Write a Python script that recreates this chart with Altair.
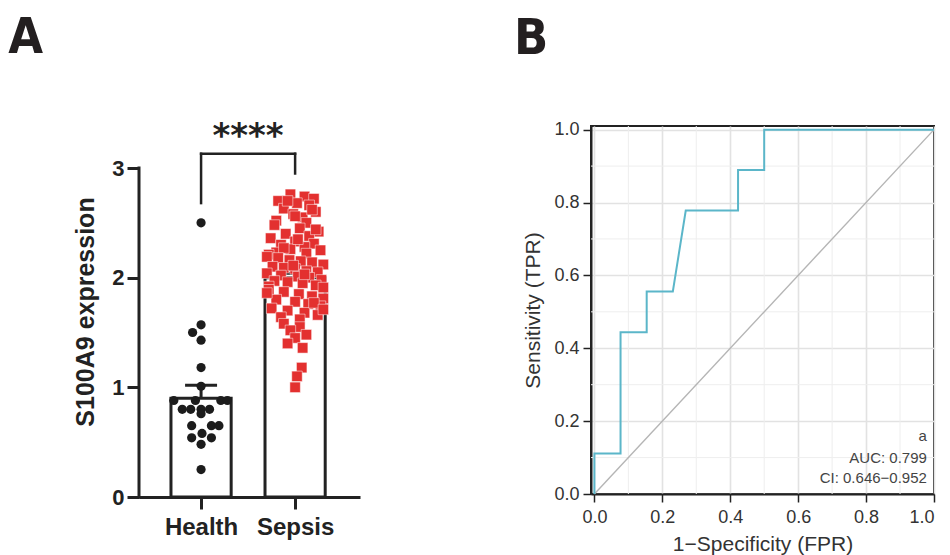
import altair as alt
import pandas as pd

# ---------------- Panel A data ----------------
groups = ["Health", "Sepsis"]
group_pos = [0, 1]
bar_means = [0.90, 2.00]
bar_sems = [0.12, 0.04]

health_vals = [2.50, 1.57, 1.50, 1.43, 1.18, 1.01,
               0.88, 0.88, 0.88, 0.88,
               0.80, 0.80, 0.80, 0.80, 0.76,
               0.65, 0.65, 0.65, 0.58, 0.54, 0.54, 0.48, 0.25]
health_dx = [0.0, 0.0, -0.09, 0.0, 0.0, 0.0,
             -0.29, -0.06, 0.21, 0.28,
             -0.20, -0.11, 0.0, 0.09, 0.0,
             -0.10, 0.11, 0.19, 0.01, -0.10, 0.11, 0.0, 0.0]

sepsis_vals = [2.76, 2.74, 2.72, 2.70, 2.68, 2.66, 2.63, 2.60, 2.58, 2.55, 2.52, 2.50, 2.70, 2.62, 2.56,
               2.48, 2.45, 2.42, 2.40, 2.38, 2.36, 2.33, 2.31, 2.30, 2.28, 2.26, 2.25, 2.23, 2.22, 2.21, 2.44, 2.35, 2.27,
               2.19, 2.18, 2.16, 2.15, 2.14, 2.12, 2.10, 2.09, 2.08, 2.06, 2.05, 2.04, 2.02, 2.01, 2.00, 1.98, 1.97, 1.96,
               1.95, 1.93, 1.92, 1.91, 2.11, 2.03,
               1.89, 1.87, 1.85, 1.83, 1.81, 1.80, 1.78, 1.76, 1.74, 1.72, 1.70, 1.68, 1.66, 1.64, 1.62, 1.86, 1.77, 1.71,
               1.58, 1.55, 1.52, 1.48, 1.45, 1.40, 1.36,
               1.18, 1.10, 1.00]
sepsis_dx = [-0.05, 0.10, 0.20, -0.18, 0.02, 0.15, -0.12, 0.22, -0.02, 0.08, -0.20, 0.12, -0.08, 0.18, 0.00,
             -0.22, 0.05, 0.25, -0.10, 0.15, -0.26, 0.00, 0.20, -0.15, 0.10, -0.05, 0.27, -0.20, 0.12, -0.28, 0.22, 0.03, -0.12,
             -0.30, -0.18, -0.06, 0.06, 0.18, 0.30, -0.24, -0.12, 0.00, 0.12, 0.24, -0.30, -0.15, 0.03, 0.15, 0.28, -0.22, -0.08,
             0.08, 0.22, -0.28, 0.30, -0.02, 0.10,
             -0.28, -0.12, 0.04, 0.18, 0.30, -0.20, 0.00, 0.14, 0.27, -0.25, -0.08, 0.10, 0.24, -0.15, 0.05, -0.30, 0.20, 0.30,
             -0.12, 0.05, -0.05, 0.12, 0.00, -0.08, 0.08,
             0.07, 0.02, 0.00]

bracket_y = 3.13
bracket_left_low = 2.68
bracket_right_low = 2.95
stars_y = 3.28
stars_label = "****"
y_ticks_A = [0, 1, 2, 3]
panel_label_A = "A"
panel_label_A_pos = (-2.05, 4.05)   # data units of panel A

# ---------------- Panel B data ----------------
roc_fpr = [0.0, 0.0, 0.077, 0.077, 0.154, 0.154, 0.231, 0.269, 0.423, 0.423, 0.5, 0.5, 1.0]
roc_tpr = [0.0, 0.111, 0.111, 0.444, 0.444, 0.556, 0.556, 0.778, 0.778, 0.889, 0.889, 1.0, 1.0]
diag = [0.0, 1.0]
minor_grid = [0.1, 0.3, 0.5, 0.7, 0.9]
major_ticks = [0.0, 0.2, 0.4, 0.6, 0.8, 1.0]
annot_lines = ["a", "AUC: 0.799", "CI: 0.646\u22120.952"]
annot_y = [0.159, 0.099, 0.044]
annot_x = 0.979
panel_label_B = "B"
panel_label_B_pos = (-0.237, 1.208)  # data units of panel B

FONT = "Liberation Sans"
PANEL_FONT = "Liberation Sans Narrow, DejaVu Sans Condensed, sans-serif"
PANEL_SIZE = 50

# ---------------- Panel A ----------------
XA_MIN, XA_MAX = -0.66, 1.69
YA_MAX = 3.383

bar_df = pd.DataFrame({"group": groups, "pos": group_pos, "mean": bar_means, "sem": bar_sems})
bar_df["left"] = bar_df["pos"] - 0.32
bar_df["right"] = bar_df["pos"] + 0.32
bar_df["top"] = bar_df["mean"] + bar_df["sem"]
bar_df["capl"] = bar_df["pos"] - 0.17
bar_df["capr"] = bar_df["pos"] + 0.17
bar_df["zero"] = 0.0

h_df = pd.DataFrame({"x": [0 + d for d in health_dx], "y": health_vals})
s_df = pd.DataFrame({"x": [1 + d for d in sepsis_dx], "y": sepsis_vals})

xA = alt.Scale(domain=[XA_MIN, XA_MAX], nice=False, zero=False)
yA = alt.Scale(domain=[0, YA_MAX], nice=False)

x_axisA = alt.Axis(values=group_pos, labelExpr="datum.value == 0 ? 'Health' : 'Sepsis'",
                   title=None, grid=False, domainColor="#222", domainWidth=3, tickColor="#222",
                   tickWidth=3, tickSize=12, labelFont=FONT, labelFontWeight="bold",
                   labelFontSize=24, labelColor="#222", labelPadding=6)
y_axisA = alt.Axis(values=y_ticks_A, format="d", title="S100A9 expression", grid=False, domain=False,
                   tickColor="#222", tickWidth=3, tickSize=12,
                   labelFont=FONT, labelFontWeight="bold", labelFontSize=22, labelColor="#222",
                   labelPadding=3, titleFont=FONT, titleFontWeight="bold", titleFontSize=25,
                   titleColor="#222", titlePadding=13)

baseA = alt.Chart(bar_df)
bars = baseA.mark_bar(fill="white", stroke="#222", strokeWidth=3).encode(
    x=alt.X("left:Q", scale=xA, axis=x_axisA), x2="right:Q",
    y=alt.Y("mean:Q", scale=yA, axis=y_axisA), y2="zero:Q")
err_v = baseA.mark_rule(color="#222", strokeWidth=3).encode(
    x=alt.X("pos:Q", scale=xA), y=alt.Y("mean:Q", scale=yA), y2="top:Q")
err_cap = baseA.mark_rule(color="#222", strokeWidth=3).encode(
    x=alt.X("capl:Q", scale=xA), x2="capr:Q", y=alt.Y("top:Q", scale=yA))

yline_df = pd.DataFrame({"x": [XA_MIN], "y": [min(y_ticks_A)], "y2": [max(y_ticks_A)]})
y_line = alt.Chart(yline_df).mark_rule(color="#222", strokeWidth=3, strokeCap="square").encode(
    x=alt.X("x:Q", scale=xA), y=alt.Y("y:Q", scale=yA), y2="y2:Q")

h_pts = alt.Chart(h_df).mark_point(shape="circle", filled=True, color="#1c1c1c", size=85, opacity=1).encode(
    x=alt.X("x:Q", scale=xA), y=alt.Y("y:Q", scale=yA))
s_pts = alt.Chart(s_df).mark_point(shape="square", filled=True, color="#e3302f", size=110, opacity=1,
                                   stroke="white", strokeWidth=0.5).encode(
    x=alt.X("x:Q", scale=xA), y=alt.Y("y:Q", scale=yA))

br_df = pd.DataFrame({
    "x": [0.0, 0.0, 1.0], "x2": [1.0, 0.0, 1.0],
    "y": [bracket_y, bracket_left_low, bracket_right_low],
    "y2": [bracket_y, bracket_y, bracket_y]})
bracket = alt.Chart(br_df).mark_rule(color="#222", strokeWidth=2.5, strokeCap="square").encode(
    x=alt.X("x:Q", scale=xA), x2="x2:Q", y=alt.Y("y:Q", scale=yA), y2="y2:Q")
stars = alt.Chart(pd.DataFrame({"x": [0.5], "y": [stars_y], "t": [stars_label]})).mark_text(
    font="DejaVu Sans", fontWeight="bold", fontSize=34, color="#222", baseline="middle").encode(
    x=alt.X("x:Q", scale=xA), y=alt.Y("y:Q", scale=yA), text="t:N")

labA = alt.Chart(pd.DataFrame({"x": [panel_label_A_pos[0]], "y": [panel_label_A_pos[1]],
                               "t": [panel_label_A]})).mark_text(
    font=PANEL_FONT, fontSize=PANEL_SIZE, fontWeight="bold", color="#231f20", align="left",
    baseline="alphabetic").encode(
    x=alt.X("x:Q", scale=xA), y=alt.Y("y:Q", scale=yA), text="t:N")

panelA = alt.layer(bars, err_v, err_cap, y_line, h_pts, s_pts, bracket, stars, labA).properties(
    width=221, height=371,
    view=alt.ViewBackground(strokeWidth=0))

# ---------------- Panel B ----------------
roc_df = pd.DataFrame({"fpr": roc_fpr, "tpr": roc_tpr, "i": list(range(len(roc_fpr)))})
diag_df = pd.DataFrame({"x": diag, "y": diag})
minor_df = pd.DataFrame({"v": minor_grid})
ann_df = pd.DataFrame({"x": [annot_x] * 3, "y": annot_y, "t": annot_lines})

xB = alt.Scale(domain=[-0.01, 1.0], nice=False, zero=False)
yB = alt.Scale(domain=[0, 1.01], nice=False)

axis_common = dict(values=major_ticks, format=".1f", grid=True, gridColor="#e2e2e2", gridWidth=1.6,
                   domainColor="#222", domainWidth=2, tickColor="#222", tickWidth=1.5, tickSize=8,
                   labelFont=FONT, labelFontSize=18, labelColor="#333",
                   titleFont=FONT, titleFontSize=21, titleFontWeight="normal", titleColor="#333")

minor_v = alt.Chart(minor_df).mark_rule(color="#eeeeee", strokeWidth=1).encode(
    x=alt.X("v:Q", scale=xB, axis=alt.Axis(title="1\u2212Specificity (FPR)", titlePadding=7,
                                           labelPadding=6, **axis_common)))
minor_h = alt.Chart(minor_df).mark_rule(color="#eeeeee", strokeWidth=1).encode(
    y=alt.Y("v:Q", scale=yB, axis=alt.Axis(title="Sensitivity (TPR)", titlePadding=10,
                                           labelPadding=4, **axis_common)))
diag_line = alt.Chart(diag_df).mark_line(color="#b5b5b5", strokeWidth=1.4).encode(
    x=alt.X("x:Q", scale=xB), y=alt.Y("y:Q", scale=yB))
roc_line = alt.Chart(roc_df).mark_line(color="#5bb6c9", strokeWidth=2).encode(
    x=alt.X("fpr:Q", scale=xB), y=alt.Y("tpr:Q", scale=yB), order="i:Q")
ann = alt.Chart(ann_df).mark_text(font=FONT, fontSize=15, color="#444", align="right", baseline="middle").encode(
    x=alt.X("x:Q", scale=xB), y=alt.Y("y:Q", scale=yB), text="t:N")
labB = alt.Chart(pd.DataFrame({"x": [panel_label_B_pos[0]], "y": [panel_label_B_pos[1]],
                               "t": [panel_label_B]})).mark_text(
    font=PANEL_FONT, fontSize=PANEL_SIZE, fontWeight="bold", color="#231f20", align="left",
    baseline="alphabetic").encode(
    x=alt.X("x:Q", scale=xB), y=alt.Y("y:Q", scale=yB), text="t:N")

panelB = alt.layer(minor_v, minor_h, diag_line, roc_line, ann, labB).properties(
    width=343, height=368,
    view=alt.ViewBackground(stroke="#222", strokeWidth=2))

chart = alt.hconcat(panelA, panelB, spacing=152).properties(
    padding={"left": 0, "top": 4, "right": 0, "bottom": 0},
    background="white")

chart.save("out.html", embed_options={"renderer": "svg", "actions": False})
